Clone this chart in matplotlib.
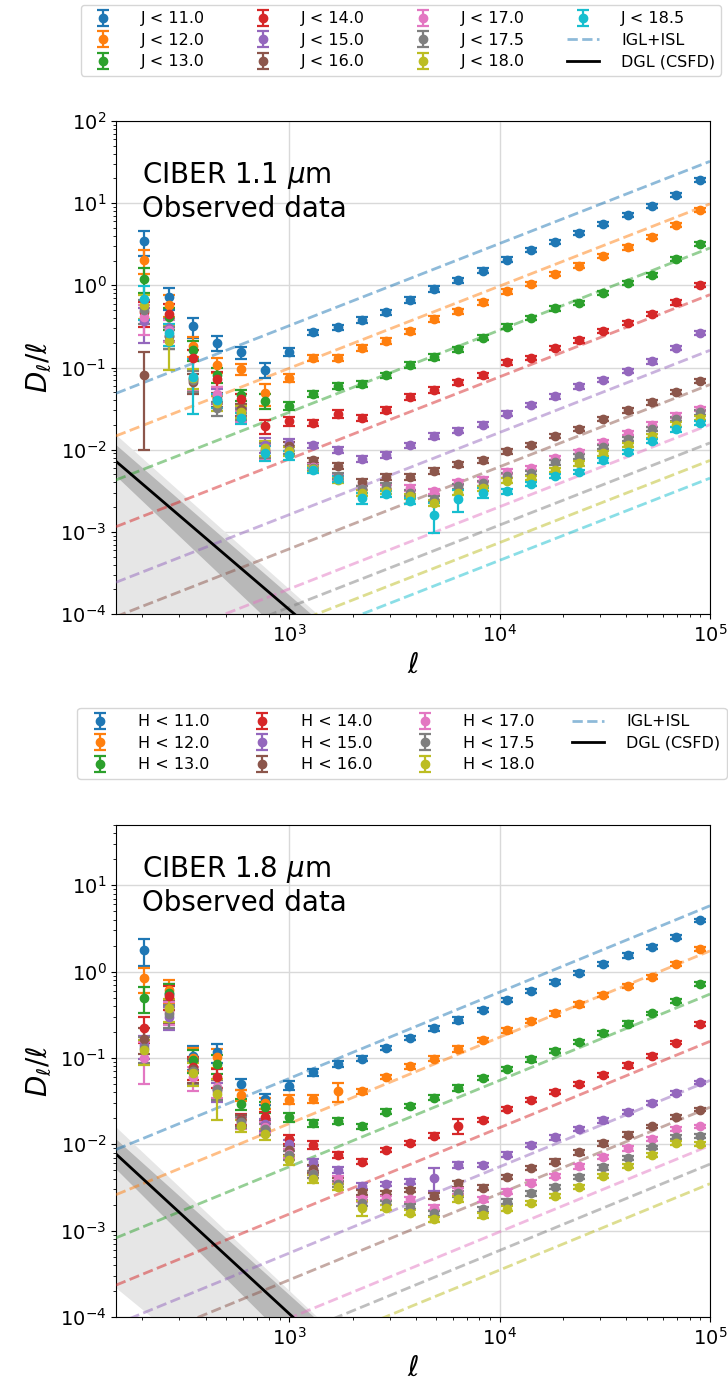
import numpy as np
import matplotlib
matplotlib.use("Agg")
import matplotlib.pyplot as plt

# ---------------- data ----------------
ell = [204.6, 266.7, 347.3, 452.4, 589.5, 768.0, 1000.5, 1303, 1698, 2212, 2881, 3754,
       4890, 6372, 8301, 10813, 14085, 18346, 23900, 31140, 40570, 52870, 68860, 89720]

labels_J = ["J < 11.0", "J < 12.0", "J < 13.0", "J < 14.0", "J < 15.0", "J < 16.0",
            "J < 17.0", "J < 17.5", "J < 18.0", "J < 18.5"]
labels_H = ["H < 11.0", "H < 12.0", "H < 13.0", "H < 14.0", "H < 15.0", "H < 16.0",
            "H < 17.0", "H < 17.5", "H < 18.0"]

J11 = [3.43, 0.72, 0.317, 0.20, 0.153, 0.094, 0.156, 0.268, 0.308, 0.383, 0.47, 0.664, 0.904, 1.15, 1.51, 2.05, 2.67, 3.40, 4.34, 5.58, 7.18, 9.33, 12.7, 19.2]
J12 = [2.05, 0.58, 0.185, 0.108, 0.096, 0.049, 0.075, 0.131, 0.131, 0.173, 0.209, 0.276, 0.393, 0.483, 0.628, 0.845, 1.05, 1.39, 1.74, 2.28, 2.90, 3.88, 5.47, 8.34]
J13 = [1.21, 0.41, 0.165, 0.082, 0.046, 0.0395, 0.0344, 0.048, 0.060, 0.063, 0.080, 0.108, 0.135, 0.168, 0.231, 0.312, 0.40, 0.525, 0.61, 0.81, 1.07, 1.35, 2.10, 3.21]
J14 = [0.47, 0.45, 0.129, 0.073, 0.041, 0.0193, 0.0222, 0.0212, 0.0275, 0.0244, 0.0302, 0.0439, 0.0538, 0.066, 0.080, 0.116, 0.131, 0.173, 0.214, 0.276, 0.349, 0.453, 0.621, 1.02]
J15 = [0.365, 0.30, 0.072, 0.045, 0.028, 0.0115, 0.0121, 0.0113, 0.0100, 0.0077, 0.0087, 0.0113, 0.0146, 0.0171, 0.0202, 0.0275, 0.0347, 0.0446, 0.059, 0.070, 0.091, 0.119, 0.173, 0.264]
J16 = [0.082, 0.24, 0.066, 0.041, 0.031, 0.0096, 0.011, 0.0074, 0.0064, 0.0040, 0.0047, 0.0047, 0.0055, 0.0066, 0.0074, 0.0096, 0.0115, 0.0148, 0.0179, 0.0237, 0.030, 0.0377, 0.0505, 0.068]
J17 = [0.41, 0.29, 0.072, 0.048, 0.0255, 0.0095, 0.0098, 0.0062, 0.0045, 0.0033, 0.0034, 0.0034, 0.0031, 0.0040, 0.0043, 0.0054, 0.0060, 0.0080, 0.0093, 0.0123, 0.016, 0.0202, 0.026, 0.0313]
J17p5 = [0.50, 0.24, 0.070, 0.032, 0.027, 0.0100, 0.0100, 0.0060, 0.0048, 0.0033, 0.0036, 0.0030, 0.0025, 0.0036, 0.0039, 0.0048, 0.0052, 0.0070, 0.0083, 0.0108, 0.0136, 0.0179, 0.0237, 0.0285]
J18 = [0.58, 0.21, 0.075, 0.037, 0.029, 0.0105, 0.0096, 0.0058, 0.0043, 0.0030, 0.0031, 0.0027, 0.00225, 0.0030, 0.0034, 0.0042, 0.0045, 0.0057, 0.0068, 0.0090, 0.0115, 0.0148, 0.0202, 0.0244]
J18p5 = [0.68, 0.26, 0.077, 0.040, 0.0244, 0.0092, 0.0085, 0.0056, 0.0044, 0.0026, 0.0029, 0.0024, 0.0016, 0.0025, 0.0030, 0.0031, 0.0038, 0.0048, 0.0054, 0.0074, 0.0093, 0.0127, 0.0176, 0.0212]

H11 = [1.79, 0.55, 0.105, 0.117, 0.050, 0.0337, 0.048, 0.0687, 0.0845, 0.0984, 0.131, 0.171, 0.22, 0.274, 0.359, 0.469, 0.597, 0.765, 0.973, 1.23, 1.55, 1.95, 2.55, 3.92]
H12 = [0.84, 0.61, 0.10, 0.103, 0.0375, 0.030, 0.033, 0.0337, 0.041, 0.041, 0.060, 0.080, 0.098, 0.1285, 0.161, 0.21, 0.269, 0.328, 0.418, 0.536, 0.682, 0.875, 1.22, 1.82]
H13 = [0.50, 0.56, 0.0958, 0.086, 0.0295, 0.027, 0.0206, 0.0175, 0.0185, 0.0162, 0.024, 0.0277, 0.0347, 0.0453, 0.059, 0.0752, 0.0966, 0.1206, 0.153, 0.195, 0.251, 0.328, 0.46, 0.719]
H14 = [0.225, 0.52, 0.0786, 0.060, 0.0197, 0.0206, 0.0116, 0.0099, 0.0075, 0.0063, 0.0086, 0.0104, 0.0126, 0.0165, 0.0192, 0.0258, 0.0328, 0.0402, 0.0504, 0.064, 0.0822, 0.1055, 0.151, 0.2465]
H15 = [0.14, 0.30, 0.072, 0.041, 0.019, 0.017, 0.0101, 0.0062, 0.0051, 0.0033, 0.00346, 0.0037, 0.0041, 0.00576, 0.0058, 0.0076, 0.0099, 0.0121, 0.0151, 0.0189, 0.0236, 0.030, 0.039, 0.0522]
H16 = [0.168, 0.36, 0.074, 0.044, 0.019, 0.016, 0.0085, 0.0052, 0.0038, 0.00277, 0.00272, 0.00295, 0.00253, 0.00352, 0.00316, 0.0042, 0.0053, 0.0063, 0.0081, 0.0103, 0.013, 0.0161, 0.0206, 0.0253]
H17 = [0.101, 0.34, 0.060, 0.046, 0.0175, 0.0158, 0.0078, 0.0045, 0.0040, 0.00232, 0.0024, 0.0023, 0.00185, 0.0029, 0.0023, 0.00284, 0.0036, 0.0043, 0.00555, 0.0071, 0.009, 0.0116, 0.0151, 0.0161]
H17p5 = [0.13, 0.32, 0.070, 0.044, 0.018, 0.015, 0.0075, 0.0045, 0.0035, 0.0021, 0.0021, 0.0019, 0.0016, 0.0027, 0.00177, 0.00217, 0.0027, 0.0032, 0.0042, 0.0054, 0.0070, 0.0092, 0.0121, 0.0126]
H18 = [0.123, 0.375, 0.067, 0.0385, 0.0165, 0.0132, 0.0066, 0.0040, 0.0032, 0.00185, 0.00185, 0.00162, 0.00136, 0.00232, 0.00151, 0.0018, 0.0021, 0.00253, 0.0032, 0.0043, 0.00565, 0.0076, 0.0103, 0.0101]

# fractional errors per ell bin (typical), plus individual overrides
relerr_J = [0.33, 0.3, 0.28, 0.2, 0.16, 0.2, 0.12, 0.08, 0.08, 0.09, 0.08, 0.08, 0.08, 0.07, 0.07, 0.07, 0.06, 0.06, 0.06, 0.06, 0.06, 0.06, 0.06, 0.06]
relerr_H = [0.33, 0.3, 0.3, 0.25, 0.15, 0.15, 0.12, 0.1, 0.08, 0.07, 0.06, 0.06, 0.07, 0.08, 0.06, 0.06, 0.06, 0.06, 0.06, 0.06, 0.06, 0.05, 0.05, 0.05]
relerr_J_special = {(5, 0): 0.88, (9, 2): 0.65, (9, 0): 0.45, (8, 1): 0.55, (9, 12): 0.4,
                    (9, 13): 0.3, (4, 0): 0.45, (6, 0): 0.4, (1, 5): 0.3, (3, 8): 0.12,
                    (9, 9): 0.15, (9, 14): 0.15}
relerr_H_special = {(1, 8): 0.25, (4, 12): 0.3, (8, 3): 0.5, (6, 0): 0.5, (3, 13): 0.2,
                    (8, 9): 0.2, (4, 0): 0.3, (0, 0): 0.35}

# shot-noise (IGL+ISL) amplitude of D_l/l at l = 1e5 (scales as l)
igl_J = [32.3, 9.8, 2.85, 0.77, 0.162, 0.062, 0.0202, 0.0121, 0.0074, 0.0045]
igl_H = [5.8, 1.74, 0.55, 0.156, 0.055, 0.0269, 0.0097, 0.0059, 0.0035]

# DGL power laws: D_l/l at l = 1000 and index ; order: line, dark-lo, dark-hi, light-lo, light-hi
dgl_amp_J = [1.13e-4, 4.76e-5, 1.70e-4, 1.1e-6, 2.01e-4]
dgl_idx_J = [-2.19, -2.43, -2.22, -2.0, -2.28]
dgl_amp_H = [1.09e-4, 5.15e-5, 1.81e-4, 4.9e-6, 2.02e-4]
dgl_idx_H = [-2.246, -2.43, -2.19, -2.0, -2.30]

# ---------------- plotting ----------------
colors = plt.rcParams["axes.prop_cycle"].by_key()["color"]
fig = plt.figure(figsize=(7.28, 13.85), dpi=100)

W, H = 728.0, 1385.0
ax1 = fig.add_axes([116 / W, 1 - 614 / H, 594 / W, 493 / H])
ax2 = fig.add_axes([116 / W, 1 - 1317 / H, 594 / W, 492 / H])

ell_arr = np.array(ell)
ell_model = np.logspace(np.log10(150), 5, 300)


def dgl(amp, idx):
    return amp * (ell_model / 1000.0) ** idx


def draw(ax, series, labels, relerr, special, igl, amp, idx, ylim, text, text_y):
    # DGL bands
    ax.fill_between(ell_model, dgl(amp[3], idx[3]), dgl(amp[4], idx[4]),
                    color="0.9", lw=0, zorder=1)
    ax.fill_between(ell_model, dgl(amp[1], idx[1]), dgl(amp[2], idx[2]),
                    color="0.72", lw=0, zorder=1.1)
    handles = []
    for i, (vals, lab) in enumerate(zip(series, labels)):
        v = np.array(vals)
        r = np.array(relerr, dtype=float)
        for (si, sj), rv in special.items():
            if si == i:
                r[sj] = rv
        h = ax.errorbar(ell_arr, v, yerr=v * r, fmt="o", color=colors[i],
                        markersize=6, capsize=4, elinewidth=1.6, capthick=1.6,
                        label=lab, zorder=4)
        handles.append(h)
    igl_handle = None
    for i, a in enumerate(igl):
        ln, = ax.plot(ell_model, a * ell_model / 1e5, "--", color=colors[i],
                      alpha=0.5, lw=2, zorder=3,
                      label="IGL+ISL" if i == 0 else None)
        if i == 0:
            igl_handle = ln
    dgl_line, = ax.plot(ell_model, dgl(amp[0], idx[0]), color="k", lw=2, zorder=3.5,
                        label="DGL (CSFD)")
    handles += [igl_handle, dgl_line]

    ax.set_xscale("log")
    ax.set_yscale("log")
    ax.set_xlim(150, 1e5)
    ax.set_ylim(*ylim)
    ax.grid(True, which="major", color="0.85", lw=1, zorder=0)
    ax.set_axisbelow(True)
    ax.tick_params(axis="both", which="major", labelsize=14)
    ax.set_xlabel(r"$\ell$", fontsize=20)
    ax.set_ylabel(r"$D_\ell/\ell$", fontsize=20)
    ax.text(0.044, text_y, text, transform=ax.transAxes, fontsize=20,
            va="top", ha="left", linespacing=1.2)
    return handles


h1 = draw(ax1, [J11, J12, J13, J14, J15, J16, J17, J17p5, J18, J18p5], labels_J,
          relerr_J, relerr_J_special, igl_J, dgl_amp_J, dgl_idx_J, (1e-4, 1e2),
          "CIBER 1.1 $\\mu$m\nObserved data", 0.921)
h2 = draw(ax2, [H11, H12, H13, H14, H15, H16, H17, H17p5, H18], labels_H,
          relerr_H, relerr_H_special, igl_H, dgl_amp_H, dgl_idx_H, (1e-4, 50),
          "CIBER 1.8 $\\mu$m\nObserved data", 0.941)

leg_kw = dict(ncol=4, fontsize=11.5, loc="upper center", borderaxespad=0,
              handletextpad=1.4, labelspacing=0.4)
fig.legend(handles=h1, labels=[h.get_label() for h in h1], columnspacing=2.6,
           bbox_to_anchor=(401 / W, 1 - 5 / H), **leg_kw)
fig.legend(handles=h2, labels=[h.get_label() for h in h2], columnspacing=2.3,
           bbox_to_anchor=(402 / W, 1 - 708 / H), **leg_kw)

fig.savefig("out.png", dpi=100)
